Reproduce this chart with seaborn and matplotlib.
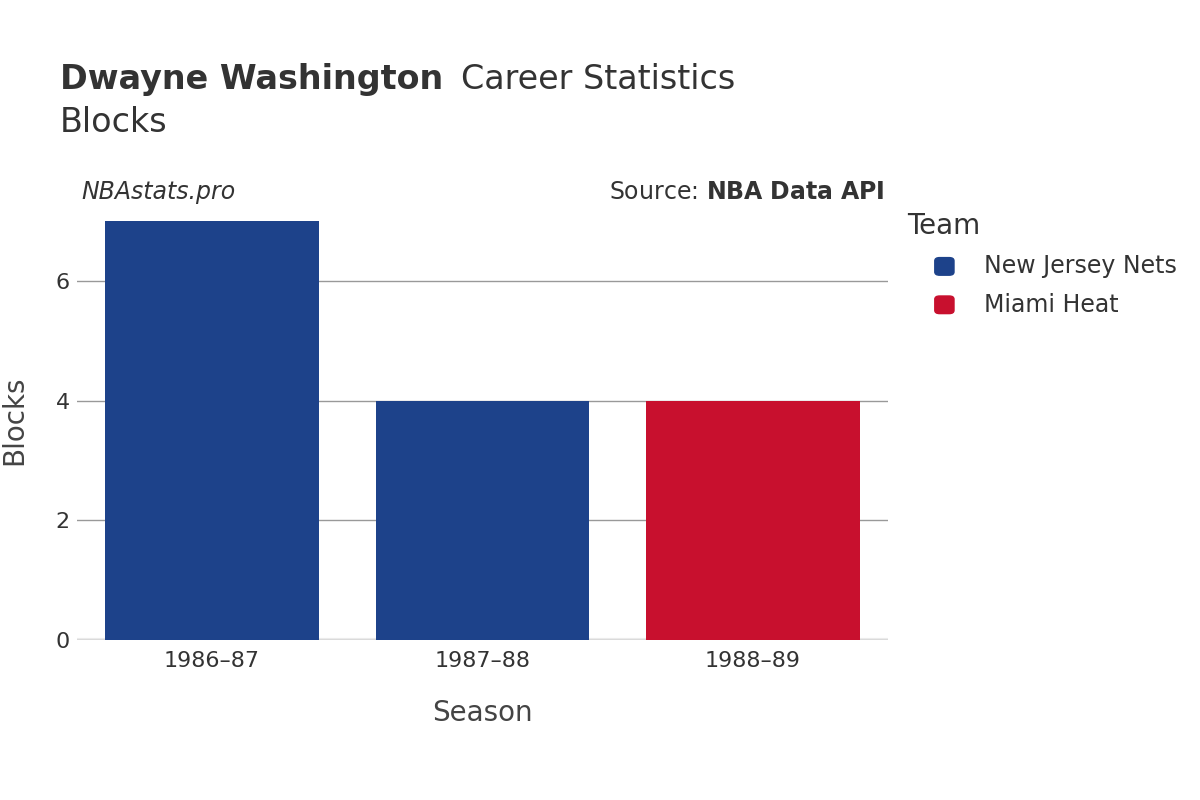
import matplotlib
matplotlib.use("Agg")
import matplotlib.pyplot as plt
import seaborn as sns
import pandas as pd

seasons = ["1986\u201387", "1987\u201388", "1988\u201389"]
teams = ["New Jersey Nets", "New Jersey Nets", "Miami Heat"]
blocks = [7, 4, 4]
team_order = ["New Jersey Nets", "Miami Heat"]
palette = {"New Jersey Nets": "#1D428A", "Miami Heat": "#C8102E"}

df = pd.DataFrame({"Season": seasons, "Team": teams, "Blocks": blocks})

plt.rcParams["font.family"] = "DejaVu Sans"
fig = plt.figure(figsize=(12, 8), dpi=100)
ax = fig.add_axes([0.064, 0.2, 0.676, 0.55])
sns.barplot(data=df, x="Season", y="Blocks", hue="Team", hue_order=team_order,
            palette=palette, dodge=False, width=0.79, ax=ax, legend=False, saturation=1)
ax.set_ylim(0, 7.35)
ax.set_xlim(-0.5, 2.5)
ax.set_yticks([0, 2, 4, 6])
ax.grid(axis="y", color="#999999", linewidth=1)
ax.set_axisbelow(True)
for s in ax.spines.values():
    s.set_visible(False)
ax.axhline(0, color="#ebebeb", linewidth=3, zorder=0.5)
ax.tick_params(length=0, labelsize=16, colors="#333333", pad=8)
ax.tick_params(axis="y", pad=5)
ax.set_xlabel("Season", fontsize=20, color="#444444", labelpad=20)
ax.set_ylabel("Blocks", fontsize=20, color="#444444", labelpad=20)

fig.text(0.05, 0.889, "Dwayne Washington", fontsize=24, fontweight="bold", color="#333333")
fig.text(0.384, 0.889, "Career Statistics", fontsize=24, color="#333333")
fig.text(0.05, 0.835, "Blocks", fontsize=24, color="#333333")
fig.text(0.068, 0.751, "NBAstats.pro", fontsize=17, style="italic", color="#333333")
fig.text(0.737, 0.751, "Source: $\\bf{NBA\\ Data\\ API}$", fontsize=17, color="#333333", ha="right")

fig.text(0.756, 0.707, "Team", fontsize=20, color="#333333")
for i, t in enumerate(team_order):
    y = 0.667 - i * 0.048
    fig.patches.append(matplotlib.patches.FancyBboxPatch(
        (0.779, y - 0.011), 0.016, 0.022, boxstyle="round,pad=0,rounding_size=0.004",
        transform=fig.transFigure, color=palette[t]))
    fig.text(0.82, y, t, fontsize=17, color="#333333", va="center")

fig.savefig("out.png", dpi=100)
